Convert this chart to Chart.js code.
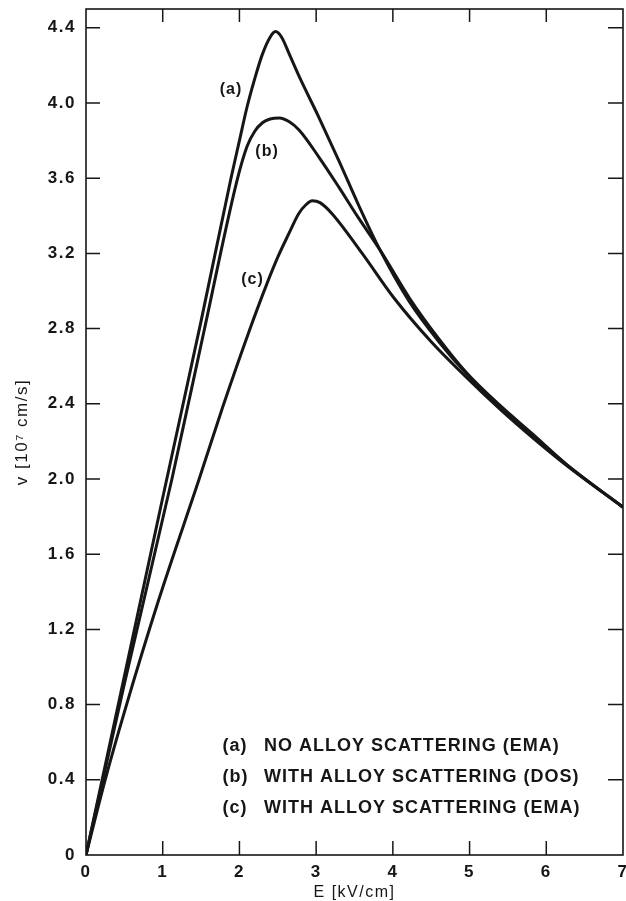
<!DOCTYPE html>
<html>
<head>
<meta charset="utf-8">
<script src="https://cdn.jsdelivr.net/npm/chart.js@4"></script>
<style>
  html, body { margin: 0; background: #fff; }
  #wrap { width: 626px; height: 901px; }
</style>
</head>
<body>
<div id="wrap"><canvas id="chart"></canvas></div>
<script>
// drift velocity v [10^7 cm/s] vs field E [kV/cm]

// -- axis ticks --
const E_TICKS = [0, 1, 2, 3, 4, 5, 6, 7];
const V_TICKS = [0, 0.4, 0.8, 1.2, 1.6, 2.0, 2.4, 2.8, 3.2, 3.6, 4.0, 4.4];

// -- (a) no alloy scattering (EMA) --
const E_A = [0, 0.5, 1.0, 1.5, 1.89, 2.0, 2.1, 2.2, 2.3, 2.4, 2.47, 2.55, 2.65, 2.78, 3.04, 3.3, 3.55, 3.83, 4.22, 4.6, 4.96, 5.4, 5.82, 6.27, 7];
const V_A = [0, 0.95, 1.9, 2.84, 3.6, 3.8, 3.98, 4.13, 4.26, 4.35, 4.38, 4.35, 4.26, 4.14, 3.92, 3.69, 3.46, 3.22, 2.94, 2.73, 2.56, 2.385, 2.235, 2.075, 1.85];

// -- (b) with alloy scattering (DOS) --
const E_B = [0, 0.5, 1.12, 1.54, 1.97, 2.1, 2.2, 2.3, 2.4, 2.52, 2.65, 2.78, 3.04, 3.3, 3.55, 3.83, 4.22, 4.6, 4.96, 5.4, 5.82, 6.27, 7];
const V_B = [0, 0.91, 2.0, 2.79, 3.59, 3.77, 3.85, 3.895, 3.915, 3.92, 3.9, 3.855, 3.71, 3.55, 3.39, 3.22, 2.96, 2.745, 2.565, 2.39, 2.24, 2.075, 1.85];

// -- (c) with alloy scattering (EMA) --
const E_C = [0, 0.25, 0.5, 0.95, 1.475, 1.78, 2.13, 2.35, 2.5, 2.65, 2.77, 2.87, 2.95, 3.05, 3.21, 3.6, 4.02, 4.5, 4.96, 5.4, 5.82, 6.27, 7];
const V_C = [0, 0.4, 0.76, 1.36, 2.0, 2.38, 2.79, 3.03, 3.18, 3.31, 3.41, 3.46, 3.48, 3.47, 3.41, 3.2, 2.96, 2.73, 2.54, 2.37, 2.22, 2.07, 1.85];

// -- text --
const CURVE_TAGS = ["(a)", "(b)", "(c)"];
const CURVE_TAG_AT = [[1.89, 4.07], [2.36, 3.74], [2.17, 3.06]];
const LEGEND_TEXT = [
  "NO ALLOY SCATTERING (EMA)",
  "WITH ALLOY SCATTERING (DOS)",
  "WITH ALLOY SCATTERING (EMA)",
];
const LEGEND_ROWS_V = [0.58, 0.415, 0.25];

const FONT = '"Liberation Sans", Arial, Helvetica, sans-serif';
const INK = "#161616";

const pts = (xs, ys) => xs.map((x, i) => ({ x, y: ys[i] }));
const line = (label, xs, ys) => ({
  label,
  data: pts(xs, ys),
  borderColor: INK,
  borderWidth: 3,
  pointRadius: 0,
  fill: false,
  cubicInterpolationMode: "monotone",
});

// wider letter spacing, like the lettering of the original
const spacingPlugin = {
  id: "spacing",
  beforeDraw(chart) { chart.ctx.letterSpacing = "1.5px"; },
};

// frame + inward tick marks on all four sides
const framePlugin = {
  id: "frame",
  afterDraw(chart) {
    const { ctx, chartArea: a, scales } = chart;
    ctx.save();
    ctx.strokeStyle = INK;
    ctx.lineWidth = 1.6;
    ctx.strokeRect(a.left, a.top, a.right - a.left, a.bottom - a.top);
    ctx.lineWidth = 1.5;
    ctx.beginPath();
    V_TICKS.forEach((v) => {
      if (v === 0) return;
      const y = scales.y.getPixelForValue(v);
      ctx.moveTo(a.left, y); ctx.lineTo(a.left + 14, y);
      ctx.moveTo(a.right, y); ctx.lineTo(a.right - 15, y);
    });
    E_TICKS.forEach((e) => {
      if (e === 0 || e === 7) return;
      const x = scales.x.getPixelForValue(e);
      ctx.moveTo(x, a.bottom); ctx.lineTo(x, a.bottom - 14);
      ctx.moveTo(x, a.top); ctx.lineTo(x, a.top + 13);
    });
    ctx.stroke();
    ctx.restore();
  },
};

// curve tags and the key in the lower right
const textPlugin = {
  id: "notes",
  afterDraw(chart) {
    const { ctx, scales } = chart;
    const px = (e) => scales.x.getPixelForValue(e);
    const py = (v) => scales.y.getPixelForValue(v);
    ctx.save();
    ctx.fillStyle = INK;
    ctx.textBaseline = "middle";
    ctx.textAlign = "center";
    ctx.letterSpacing = "1px";
    ctx.font = "bold 16px " + FONT;
    CURVE_TAGS.forEach((t, i) => {
      ctx.fillText(t, px(CURVE_TAG_AT[i][0]), py(CURVE_TAG_AT[i][1]));
    });
    ctx.textAlign = "left";
    ctx.font = "bold 18px " + FONT;
    LEGEND_TEXT.forEach((t, i) => {
      const y = py(LEGEND_ROWS_V[i]);
      ctx.fillText(CURVE_TAGS[i], px(1.78), y);
      ctx.fillText(t, px(2.32), y);
    });
    ctx.restore();
  },
};

new Chart(document.getElementById("chart"), {
  type: "line",
  data: {
    datasets: [
      line("(a)", E_A, V_A),
      line("(b)", E_B, V_B),
      line("(c)", E_C, V_C),
    ],
  },
  options: {
    responsive: true,
    maintainAspectRatio: false,
    animation: false,
    devicePixelRatio: 1,
    layout: { padding: { top: 9, right: 3, left: 0, bottom: 0 } },
    plugins: { legend: { display: false }, tooltip: { enabled: false } },
    scales: {
      x: {
        type: "linear",
        min: 0,
        max: 7,
        afterBuildTicks: (s) => { s.ticks = E_TICKS.map((value) => ({ value })); },
        afterFit: (s) => { s.height = 46; s.paddingLeft = 0; s.paddingRight = 0; },
        grid: { display: false, drawTicks: false },
        border: { display: false },
        ticks: { color: INK, padding: 7, font: { family: FONT, size: 17, weight: "bold" } },
        title: {
          display: true,
          text: "E [kV/cm]",
          color: INK,
          padding: 0,
          font: { family: FONT, size: 16, lineHeight: 1 },
        },
      },
      y: {
        type: "linear",
        min: 0,
        max: 4.5,
        afterBuildTicks: (s) => { s.ticks = V_TICKS.map((value) => ({ value })); },
        afterFit: (s) => { s.width = 86; s.paddingTop = 0; s.paddingBottom = 0; },
        grid: { display: false, drawTicks: false },
        border: { display: false },
        ticks: {
          color: INK,
          padding: 10,
          font: { family: FONT, size: 17, weight: "bold" },
          callback: (v) => (v === 0 ? "0" : v.toFixed(1)),
        },
        title: {
          display: true,
          text: "v [10\u2077 cm/s]",
          color: INK,
          padding: { top: 14, bottom: 0 },
          font: { family: FONT, size: 17, lineHeight: 1 },
        },
      },
    },
  },
  plugins: [spacingPlugin, framePlugin, textPlugin],
});
</script>
</body>
</html>
